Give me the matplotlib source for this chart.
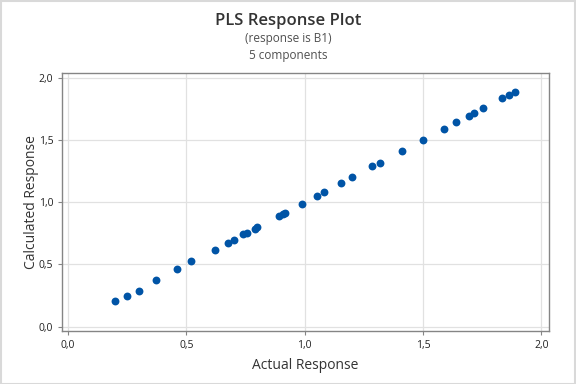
import matplotlib.pyplot as plt
from matplotlib.ticker import FuncFormatter, MultipleLocator
from matplotlib.patches import Rectangle

# values
actual = [0.20, 0.25, 0.30, 0.37, 0.46, 0.52, 0.62, 0.675, 0.70, 0.74, 0.755,
          0.79, 0.80, 0.89, 0.91, 0.915, 0.99, 1.05, 1.08, 1.155, 1.20, 1.285,
          1.32, 1.41, 1.50, 1.59, 1.64, 1.695, 1.715, 1.755, 1.835, 1.865, 1.89]
calculated = [0.205, 0.25, 0.29, 0.375, 0.46, 0.525, 0.62, 0.67, 0.70, 0.745, 0.75,
              0.785, 0.80, 0.89, 0.905, 0.915, 0.985, 1.05, 1.08, 1.155, 1.20, 1.29,
              1.315, 1.41, 1.50, 1.59, 1.645, 1.695, 1.72, 1.76, 1.84, 1.865, 1.885]

title = "PLS Response Plot"
subtitle1 = "(response is B1)"
subtitle2 = "5 components"

plt.rcParams['font.family'] = ['Open Sans', 'DejaVu Sans']

fig = plt.figure(figsize=(5.76, 3.84), dpi=100)
fig.patches.append(Rectangle((0.001, 0.001), 0.998, 0.997, transform=fig.transFigure,
                             fill=False, edgecolor='#d9d9d9', linewidth=1.5))
ax = fig.add_axes([0.108, 0.138, 0.845, 0.672])

ax.scatter(actual, calculated, s=32, color='#0054a6', zorder=3, linewidths=0)

ax.set_xlim(-0.025, 2.032)
ax.set_ylim(-0.035, 2.04)
ax.xaxis.set_major_locator(MultipleLocator(0.5))
ax.yaxis.set_major_locator(MultipleLocator(0.5))
fmt = FuncFormatter(lambda v, p: f"{v:.1f}".replace('.', ','))
ax.xaxis.set_major_formatter(fmt)
ax.yaxis.set_major_formatter(fmt)

ax.grid(True, color='#e1e1e1', linewidth=0.9)
ax.set_axisbelow(True)
for s in ax.spines.values():
    s.set_color('#858585')
    s.set_linewidth(1.0)
ax.tick_params(colors='#858585', labelcolor='#222222', labelsize=7.5, length=3, width=0.8)

ax.set_xlabel("Actual Response", fontsize=10, color='#333333', labelpad=5)
ax.set_ylabel("Calculated Response", fontsize=10, color='#333333', labelpad=0)

fig.text(0.5, 0.945, title, ha='center', va='center', fontsize=12,
         fontweight='semibold', color='#333333')
fig.text(0.5, 0.899, subtitle1, ha='center', va='center', fontsize=8.5, color='#505050')
fig.text(0.5, 0.855, subtitle2, ha='center', va='center', fontsize=8.5, color='#505050')

fig.savefig('out.png', dpi=100)
